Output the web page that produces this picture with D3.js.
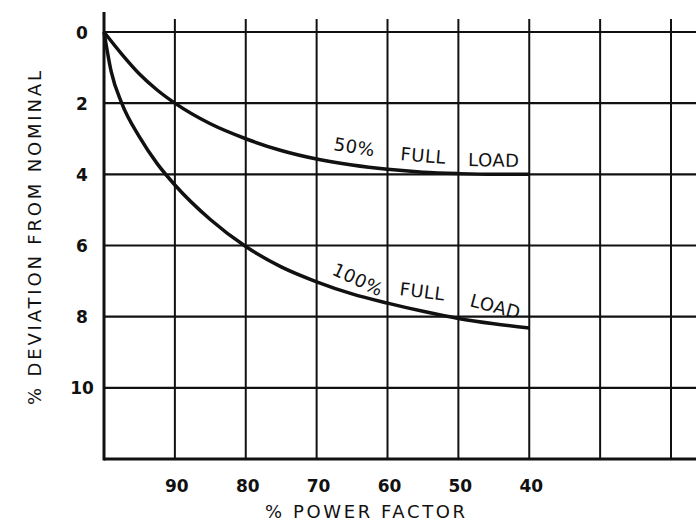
<!DOCTYPE html>
<html>
<head>
<meta charset="utf-8">
<script src="https://cdn.jsdelivr.net/npm/d3@7"></script>
<style>
  body { margin: 0; background: #fff; }
  svg { display: block; }
  text { font-family: "DejaVu Sans", sans-serif; fill: #111; }
</style>
</head>
<body>
<svg id="chart"></svg>
<script>
// data
const xTickValues = [90, 80, 70, 60, 50, 40];
const xGridValues = [90, 80, 70, 60, 50, 40, 30, 20];
const yTickValues = [0, 2, 4, 6, 8, 10];

const pf50 = [100, 97.5, 95, 92.5, 90, 85, 80, 75, 70, 65, 60, 55, 50, 45, 40];
const dev50 = [0, 0.62, 1.18, 1.63, 2.0, 2.58, 3.0, 3.33, 3.57, 3.74, 3.86, 3.94, 3.98, 4.0, 4.0];

const pf100 = [100, 99, 97.5, 95, 92.5, 90, 85, 80, 75, 70, 65, 60, 55, 50, 45, 40];
const dev100 = [0, 1.1, 2.0, 2.95, 3.7, 4.3, 5.27, 6.03, 6.6, 7.02, 7.36, 7.62, 7.85, 8.05, 8.2, 8.32];

const width = 696, height = 523;
const svg = d3.select("#chart").attr("width", width).attr("height", height);

const x = d3.scaleLinear().domain([100, 20]).range([104, 671]);
const y = d3.scaleLinear().domain([0, 12]).range([32, 459]);

const ink = "#111";

/* grid */
svg.append("g").selectAll("line")
    .data(yTickValues)
    .enter().append("line")
    .attr("x1", x(100)).attr("x2", width)
    .attr("y1", d => y(d)).attr("y2", d => y(d))
    .attr("stroke", ink).attr("stroke-width", 2.2);

svg.append("g").selectAll("line")
    .data(xGridValues)
    .enter().append("line")
    .attr("x1", d => x(d)).attr("x2", d => x(d))
    .attr("y1", 19).attr("y2", y(12))
    .attr("stroke", ink).attr("stroke-width", 2);

/* axes */
svg.append("line")
    .attr("x1", x(100)).attr("x2", x(100))
    .attr("y1", 12).attr("y2", y(12) + 1.5)
    .attr("stroke", ink).attr("stroke-width", 3);

svg.append("line")
    .attr("x1", x(100)).attr("x2", width)
    .attr("y1", y(12)).attr("y2", y(12))
    .attr("stroke", ink).attr("stroke-width", 3);

/* tick labels */
svg.append("g").selectAll("text")
    .data(yTickValues)
    .enter().append("text")
    .attr("x", 82)
    .attr("y", d => y(d) + 6.5)
    .attr("text-anchor", "middle")
    .attr("font-size", "17px")
    .attr("font-weight", "bold")
    .text(d => d);

svg.append("g").selectAll("text")
    .data(xTickValues)
    .enter().append("text")
    .attr("x", d => x(d) + 2)
    .attr("y", 492)
    .attr("text-anchor", "middle")
    .attr("font-size", "17px")
    .attr("font-weight", "bold")
    .text(d => d);

/* axis titles */
svg.append("text")
    .attr("transform", "translate(41,238) rotate(-90)")
    .attr("text-anchor", "middle")
    .attr("font-size", "18px")
    .attr("textLength", 334)
    .attr("lengthAdjust", "spacing")
    .text("% DEVIATION FROM NOMINAL");

svg.append("text")
    .attr("x", 365)
    .attr("y", 518)
    .attr("text-anchor", "middle")
    .attr("font-size", "18px")
    .attr("textLength", 200)
    .attr("lengthAdjust", "spacing")
    .text("% POWER FACTOR");

/* curves */
const line = d3.line()
    .x(d => x(d[0]))
    .y(d => y(d[1]))
    .curve(d3.curveMonotoneX);

svg.append("path")
    .datum(d3.zip(pf50, dev50))
    .attr("d", line)
    .attr("fill", "none").attr("stroke", ink).attr("stroke-width", 3.5);

svg.append("path")
    .datum(d3.zip(pf100, dev100))
    .attr("d", line)
    .attr("fill", "none").attr("stroke", ink).attr("stroke-width", 3.5);

/* curve labels */
const labels = [
    { t: "50%", x: 333, y: 150, r: 9 },
    { t: "FULL", x: 400, y: 160, r: 5 },
    { t: "LOAD", x: 468, y: 166, r: 1 },
    { t: "100%", x: 331, y: 274, r: 25 },
    { t: "FULL", x: 399, y: 295, r: 7 },
    { t: "LOAD", x: 469, y: 306, r: 15 }
];

svg.append("g").selectAll("text")
    .data(labels)
    .enter().append("text")
    .attr("transform", d => `translate(${d.x},${d.y}) rotate(${d.r})`)
    .attr("font-size", "18px")
    .attr("letter-spacing", "0.5px")
    .text(d => d.t);
</script>
</body>
</html>
